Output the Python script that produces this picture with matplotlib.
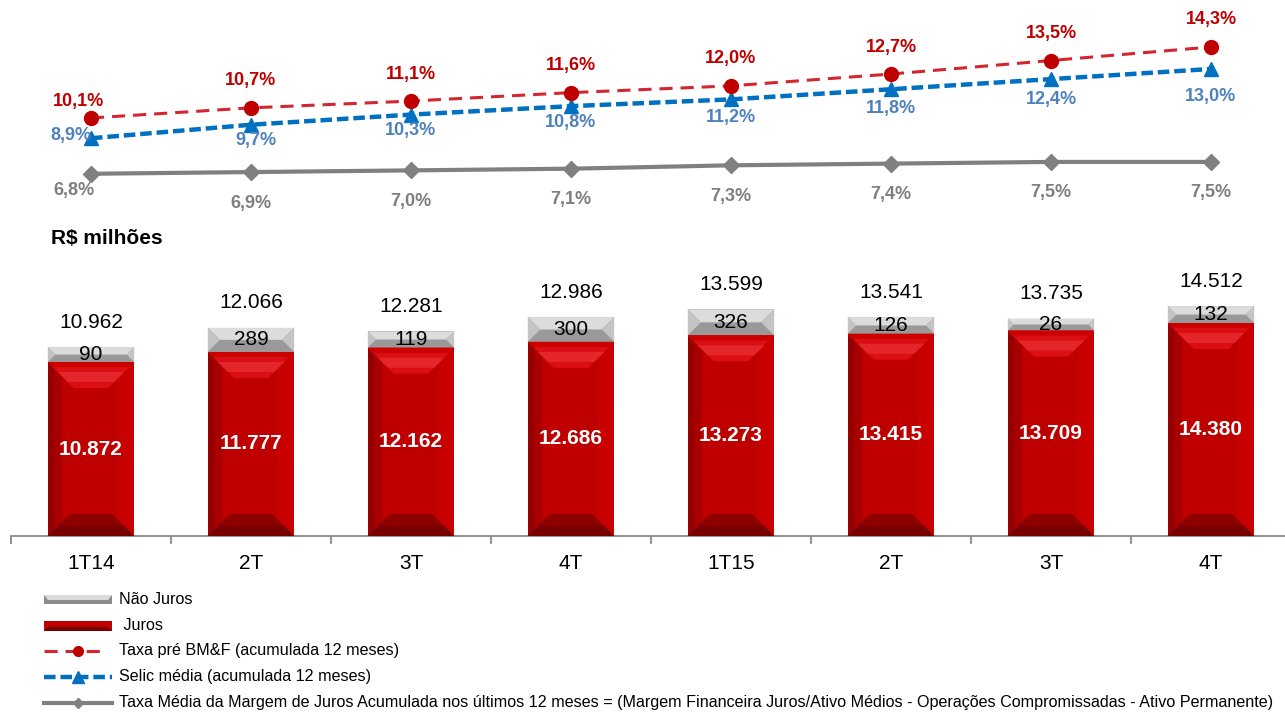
import numpy as np
import matplotlib
matplotlib.use('Agg')
import matplotlib.pyplot as plt
from matplotlib.patches import Polygon, Rectangle
from matplotlib.lines import Line2D

plt.rcParams['font.family'] = ['Liberation Sans', 'DejaVu Sans']

# data
quarters = ['1T14', '2T', '3T', '4T', '1T15', '2T', '3T', '4T']
juros = [10872, 11777, 12162, 12686, 13273, 13415, 13709, 14380]
nao_juros = [90, 289, 119, 300, 326, 126, 26, 132]
taxa_pre = [10.1, 10.7, 11.1, 11.6, 12.0, 12.7, 13.5, 14.3]
selic = [8.9, 9.7, 10.3, 10.8, 11.2, 11.8, 12.4, 13.0]
taxa_margem = [6.8, 6.9, 7.0, 7.1, 7.3, 7.4, 7.5, 7.5]

W, H = 1285, 713
fig = plt.figure(figsize=(W / 100, H / 100), dpi=100)

x = np.arange(len(quarters))
PX_X = 1 / 160.0     # category units per pixel
PX_Y = 89.9          # value units per pixel
base = -4765         # bars start below zero, like the original

def fmt(v):
    return f"{v:,}".replace(',', '.')

def pct(v):
    return f"{v:.1f}%".replace('.', ',')

# ---- bar axes
ax = fig.add_axes([11 / W, 1 - 536 / H, 1280 / W, 256 / H])
ax.set_xlim(-0.5, 7.5)
ax.set_ylim(base, base + 256 * PX_Y)

red_bars = ax.bar(x, np.array(juros) - base, bottom=base, width=0.54, color='#BE0000', zorder=2)
# small segments are exaggerated in the original
grey_h = np.array(nao_juros) * 4.2 + 970
grey_bars = ax.bar(x, grey_h, bottom=juros, width=0.54, color='#999999', zorder=2)

def poly(pts, c):
    ax.add_patch(Polygon(pts, closed=True, facecolor=c, edgecolor='none', zorder=3))

def bevel_red(p):
    x0, w, y0, h = p.get_x(), p.get_width(), p.get_y(), p.get_height()
    x1, y1 = x0 + w, y0 + h
    dx, dy = 22 * PX_X, 22 * PX_Y
    tx, ty = 26 * PX_X, 26 * PX_Y
    # side strips
    poly([(x0, y0), (x0 + 14 * PX_X, y0), (x0 + 14 * PX_X, y1), (x0, y1)], '#A80000')
    poly([(x0, y0), (x0 + 6 * PX_X, y0), (x0 + 6 * PX_X, y1), (x0, y1)], '#960000')
    poly([(x1, y0), (x1 - 16 * PX_X, y0), (x1 - 16 * PX_X, y1), (x1, y1)], '#C80000')
    # bottom and top bands
    poly([(x0, y0), (x1, y0), (x1 - dx, y0 + dy), (x0 + dx, y0 + dy)], '#8C0000')
    poly([(x0, y0), (x1, y0), (x1 - 10 * PX_X, y0 + 10 * PX_Y), (x0 + 10 * PX_X, y0 + 10 * PX_Y)], '#780000')
    poly([(x0, y1), (x1, y1), (x1 - tx, y1 - ty), (x0 + tx, y1 - ty)], '#DA0E13')
    poly([(x0 + 10 * PX_X, y1 - 10 * PX_Y), (x1 - 10 * PX_X, y1 - 10 * PX_Y),
          (x1 - 20 * PX_X, y1 - 20 * PX_Y), (x0 + 20 * PX_X, y1 - 20 * PX_Y)], '#E4262B')
    poly([(x0, y1), (x1, y1), (x1 - 4 * PX_X, y1 - 5 * PX_Y), (x0 + 4 * PX_X, y1 - 5 * PX_Y)], '#CC0000')

def bevel_grey(p):
    x0, w, y0, h = p.get_x(), p.get_width(), p.get_y(), p.get_height()
    x1, y1 = x0 + w, y0 + h
    d = h * 0.5
    dx = d / PX_Y * PX_X
    poly([(x0, y1), (x1, y1), (x1 - dx, y1 - d), (x0 + dx, y1 - d)], '#DCDCDC')
    poly([(x0, y1), (x0 + dx, y1 - d), (x0, y0)], '#C4C4C4')
    poly([(x1, y1), (x1 - dx, y1 - d), (x1, y0)], '#C4C4C4')

for p in red_bars:
    bevel_red(p)
for p in grey_bars:
    bevel_grey(p)

for i in range(len(x)):
    ax.text(x[i], (base + juros[i]) / 2, fmt(juros[i]), ha='center', va='center',
            color='white', fontsize=15, fontweight='bold', zorder=5)
    ax.text(x[i], juros[i] + grey_h[i] / 2, str(nao_juros[i]), ha='center', va='center',
            color='black', fontsize=15, zorder=5)
    ax.annotate(fmt(juros[i] + nao_juros[i]), (x[i], juros[i] + grey_h[i]),
                xytext=(0, 18), textcoords='offset points', ha='center', va='center',
                fontsize=15, color='black')

ax.set_xticks(x, quarters, fontsize=15)
ax.set_xticks(np.arange(-0.5, 8, 1), minor=True)
ax.tick_params(axis='x', which='major', length=0, pad=13)
ax.tick_params(axis='x', which='minor', length=6, color='#898989', width=1.3)
ax.set_yticks([])
for s in ['left', 'right', 'top']:
    ax.spines[s].set_visible(False)
ax.spines['bottom'].set_color('#898989')
ax.spines['bottom'].set_linewidth(1.3)
ax.patch.set_alpha(0)

# ---- line axes
lx = fig.add_axes([11 / W, 1 - 215 / H, 1280 / W, 215 / H])
lx.set_xlim(-0.5, 7.5)
lx.set_ylim(4.36, 17.08)
lx.axis('off')

lx.plot(x, taxa_margem, color='#808080', lw=3, marker='D', ms=8, zorder=2)
lx.plot(x, selic, color='#0070C0', lw=3.2, ls=(0, (2.6, 1.1)), marker='^', ms=10, zorder=3)
lx.plot(x, taxa_pre, color='#D22630', lw=2.2, ls=(0, (4.3, 2.6)), marker='o', ms=10,
        mfc='#C00000', mec='#C00000', zorder=4)

red_off = [(-12, 16)] + [(0, 27)] * 7
blue_off = [(-20, 3), (5, -16), (0, -16), (0, -16), (0, -18), (0, -19), (0, -20), (0, -28)]
grey_off = [(-17, -17)] + [(0, -31)] * 7

for i in range(len(x)):
    lx.annotate(pct(taxa_pre[i]), (x[i], taxa_pre[i]), xytext=(red_off[i][0] * 0.72, red_off[i][1] * 0.72),
                textcoords='offset points', ha='center', va='center', fontsize=13,
                fontweight='bold', color='#C00000')
    lx.annotate(pct(selic[i]), (x[i], selic[i]), xytext=(blue_off[i][0] * 0.72, blue_off[i][1] * 0.72),
                textcoords='offset points', ha='center', va='center', fontsize=13,
                fontweight='bold', color='#4F81BD')
    lx.annotate(pct(taxa_margem[i]), (x[i], taxa_margem[i]), xytext=(grey_off[i][0] * 0.72, grey_off[i][1] * 0.72),
                textcoords='offset points', ha='center', va='center', fontsize=13,
                fontweight='bold', color='#7F7F7F')

# ---- overlay in pixel coords: unit label and legend
ov = fig.add_axes([0, 0, 1, 1], zorder=-1)
ov.set_xlim(0, W)
ov.set_ylim(H, 0)
ov.axis('off')

ov.text(51, 238, 'R$ milhões', fontsize=15, fontweight='bold', ha='left', va='center')

# Não Juros swatch
ov.add_patch(Rectangle((44, 595), 68, 9, facecolor='#8C8C8C', edgecolor='none'))
ov.add_patch(Polygon([(44, 595), (112, 595), (108, 600), (48, 600)], facecolor='#DADADA', edgecolor='none'))
# Juros swatch
ov.add_patch(Rectangle((44, 621), 68, 10, facecolor='#C00000', edgecolor='none'))
ov.add_patch(Polygon([(44, 631), (112, 631), (108, 627), (48, 627)], facecolor='#7A0000', edgecolor='none'))

ov.add_line(Line2D([44, 100], [651, 651], color='#D22630', lw=2.2, ls=(0, (4.3, 2.6))))
ov.plot([78], [651], marker='o', ms=7, color='#C00000')
ov.add_line(Line2D([44, 112], [677, 677], color='#0070C0', lw=3.2, ls=(0, (2.6, 1.1))))
ov.plot([78], [677], marker='^', ms=8, color='#0070C0')
ov.add_line(Line2D([44, 112], [703, 703], color='#808080', lw=3))
ov.plot([78], [703], marker='D', ms=5, color='#808080')

leg_labels = ['Não Juros', ' Juros', 'Taxa pré BM&F (acumulada 12 meses)', 'Selic média (acumulada 12 meses)',
              'Taxa Média da Margem de Juros Acumulada nos últimos 12 meses = (Margem Financeira Juros/Ativo Médios'
              ' - Operações Compromissadas - Ativo Permanente)']
leg_y = [600, 626, 651, 677, 703]
for lab, yy in zip(leg_labels, leg_y):
    ov.text(119, yy, lab, fontsize=11.6, ha='left', va='center', color='black')

fig.savefig('out.png', dpi=100)
